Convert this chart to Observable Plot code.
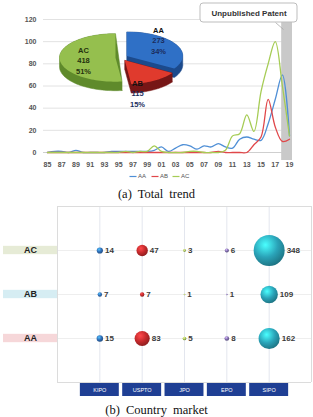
<!DOCTYPE html>
<html><head><meta charset="utf-8">
<script src="https://cdn.jsdelivr.net/npm/d3@7"></script>
<script src="https://cdn.jsdelivr.net/npm/@observablehq/plot@0.6"></script>
<style>
body{margin:0;background:#fff;}
#wrap{position:relative;width:313px;height:417px;overflow:hidden;}
.cap{position:absolute;left:0;width:313px;text-align:center;font-family:"Liberation Serif","Times New Roman",serif;font-size:12.5px;color:#111;word-spacing:3px;line-height:14px;}
#top{position:absolute;left:0;top:0;}
#bot{position:absolute;left:0;top:200px;}
</style></head><body>
<div id="wrap">
  <div id="top"></div>
  <div class="cap" style="top:187px">(a) Total trend</div>
  <div id="bot"></div>
  <div class="cap" style="top:403px">(b) Country market</div>
</div>
<script>
// ---------- data: (a) total trend ----------
const years = [1985,1986,1987,1988,1989,1990,1991,1992,1993,1994,1995,1996,1997,1998,1999,2000,2001,2002,2003,2004,2005,2006,2007,2008,2009,2010,2011,2012,2013,2014,2015,2016,2017,2018,2019];
const seriesNames = ["AA","AB","AC"];
const aaTrend = [0,1,1,0,2,0,0,0,0,1,1,1,1,1,1,2,5,1,4,7,6,3,6,5,8,5,4,12,14,12,11,26,48,70,15];
const abTrend = [0,0,0,0,0,0,0,0,0,0,0,0,0,0,0,0,0,0,0,0,0,0,0,0,1,0,0,0,0,7,14,48,23,10,12];
const acTrend = [0,0,0,0,0,0,0,0,0,0,0,1,0,1,1,6,1,0,0,0,1,1,0,0,0,2,15,17,34,19,55,80,100,60,15];
const yTicks = [0,20,40,60,80,100,120];
const xTickYears = [1985,1987,1989,1991,1993,1995,1997,1999,2001,2003,2005,2007,2009,2011,2013,2015,2017,2019];
const xTickLabels = ["85","87","89","91","93","95","97","99","01","03","05","07","09","11","13","15","17","19"];
const unpublishedFrom = 2017.9;
const calloutText = "Unpublished Patent";

// pie inset
const pieKeys = ["AA","AB","AC"];
const pieVals = [273,115,418];
const piePct = ["34%","15%","51%"];

// ---------- data: (b) country market ----------
const markets = ["KIPO","USPTO","JPO","EPO","SIPO"];
const techs = ["AC","AB","AA"];
const acCounts = [14,47,3,6,348];
const abCounts = [7,7,1,1,109];
const aaCounts = [15,83,5,8,162];

// ---------- styles ----------
const lineColors = ["#4f8fd6","#e0474a","#a6cc55"];
const pieTop = {AA:"#2f70c6", AB:"#e03a2d", AC:"#95bf4e"};
const pieSide = {AA:"#1c4a8c", AB:"#761616", AC:"#5f8a2b"};
const pieText = {AA:["#111","#1b2c5c"], AB:["#111","#1b2c5c"], AC:["#26330f","#26330f"]};
const marketColors = ["#2f6db5","#c3292b","#a0bf5a","#7b69a8","#2aa3b8"];
const techBg = {AC:"#e6ebd6", AB:"#d6edf3", AA:"#f6d7d9"};
const font = "'Liberation Sans', Arial, sans-serif";

// ---------- (a) ----------
const pxX = px => 1985 + (px - 47) * 34 / 242;
const pxY = py => (152 - py) * 120 / 133;

const trend = [];
[aaTrend, abTrend, acTrend].forEach((arr, s) => arr.forEach((v, i) => trend.push({series: seriesNames[s], year: years[i], value: v})));

// pie geometry (computed from pie values)
const pieCx = 121, pieCy = 57, rx = 56, ry = 24, depth = 9, explode = 6;
const arcs = d3.pie().sort(null)(pieVals);
const slices = arcs.map((a, i) => {
  const mid = (a.startAngle + a.endAngle) / 2;
  const cx = pieCx + explode * Math.sin(mid), cy = pieCy - explode * 0.55 * Math.cos(mid);
  const n = Math.max(3, Math.ceil((a.endAngle - a.startAngle) / 0.04));
  const top = [[cx, cy]];
  for (let k = 0; k <= n; k++) {
    const t = a.startAngle + (a.endAngle - a.startAngle) * k / n;
    top.push([cx + rx * Math.sin(t), cy - ry * Math.cos(t)]);
  }
  const hull = d3.polygonHull(top.concat(top.map(([x, y]) => [x, y + depth])));
  const toData = pts => { const o = pts.map(([x, y]) => ({x: pxX(x), y: pxY(y)})); o.push(o[0]); return o; };
  return {key: pieKeys[i], top: toData(top), side: toData(hull)};
});
const drawOrder = ["AA","AC","AB"];
const pieMarks = [];
drawOrder.forEach(k => {
  const s = slices.find(d => d.key === k);
  pieMarks.push(Plot.line(s.side, {x: "x", y: "y", fill: pieSide[k], stroke: pieSide[k], strokeWidth: 0.5}));
  pieMarks.push(Plot.line(s.top, {x: "x", y: "y", fill: pieTop[k], stroke: "none"}));
});
const pieLabelPos = {AA: [158, 30], AB: [137, 83], AC: [83, 50]};
const pieLabelMarks = [];
pieKeys.forEach((k, i) => {
  const [px, py] = pieLabelPos[k];
  pieLabelMarks.push(Plot.text([k], {x: pxX(px), y: pxY(py), text: d => d, fill: pieText[k][0], fontSize: 7.5, fontWeight: "bold"}));
  pieLabelMarks.push(Plot.text([String(pieVals[i]), piePct[i]], {x: pxX(px), y: (d, j) => pxY(py + 10.5 * (j + 1)), text: d => d, fill: pieText[k][1], fontSize: 7.5, fontWeight: "bold"}));
});

const legendItems = seriesNames.map((s, i) => ({s, x0: pxX([129, 151, 172][i]), x1: pxX([136, 158, 179][i]), tx: pxX([137.5, 159.5, 180.5][i])}));
const legY = pxY(176);

const topPlot = Plot.plot({
  width: 313, height: 185, margin: 0,
  style: {fontFamily: font, background: "transparent", overflow: "visible"},
  x: {domain: [1985, 2019], range: [47, 289], axis: null},
  y: {domain: [0, 120], range: [152, 19], axis: null},
  color: {domain: seriesNames, range: lineColors},
  marks: [
    Plot.ruleY(yTicks.filter(d => d > 0), {x1: pxX(43), x2: pxX(292), stroke: "#e2e2e2", strokeWidth: 1}),
    Plot.ruleY([0], {x1: pxX(43), x2: pxX(292), stroke: "#cfcfcf", strokeWidth: 1}),
    Plot.rect([unpublishedFrom], {x1: d => d, x2: pxX(292), y1: pxY(160), y2: pxY(21), fill: "#c9c9c9"}),
    Plot.line(trend, {x: "year", y: "value", z: "series", stroke: "series", strokeWidth: 1.3, curve: "catmull-rom"}),
    Plot.text(yTicks, {x: pxX(44), y: d => d, dx: -8, text: d => String(d), textAnchor: "end", fontSize: 7, fontWeight: "bold", fill: "#555"}),
    Plot.text(xTickYears, {x: d => d, y: 0, dy: 12, text: (d, i) => xTickLabels[i], fontSize: 7, fontWeight: "bold", fill: "#555"}),
    Plot.link(legendItems, {x1: "x0", x2: "x1", y1: legY, y2: legY, stroke: "s", strokeWidth: 1.2}),
    Plot.text(legendItems, {x: "tx", y: legY, text: "s", textAnchor: "start", fontSize: 6, fill: "#555"}),
    ...pieMarks,
    ...pieLabelMarks,
    Plot.link([0], {x1: pxX(275), y1: pxY(22), x2: pxX(283), y2: pxY(29), stroke: "#aaa", strokeWidth: 0.8}),
    Plot.rect([0], {x1: pxX(200), x2: pxX(297), y1: pxY(22), y2: pxY(3), fill: "#fff", stroke: "#bdbdbd", rx: 3}),
    Plot.text([calloutText], {x: pxX(248.5), y: pxY(12.5), text: d => d, fontSize: 8, fontWeight: "bold", fill: "#333"})
  ]
});
document.getElementById("top").append(topPlot);

// ---------- (b) ----------
const rowOf = {AC: 3, AB: 2, AA: 1};
const countsOf = {AC: acCounts, AB: abCounts, AA: aaCounts};
const bubbles = [];
techs.forEach(t => markets.forEach((m, j) => bubbles.push({tech: t, market: m, col: j + 1, row: rowOf[t], value: countsOf[t][j]})));
const rMax = 15.5, vMax = d3.max(bubbles, d => d.value);
const rpx = v => rMax * Math.sqrt(v / vMax);
const unitX = 254 / 6;

const gradDefs = () => {
  const defs = d3.create("svg:defs");
  markets.forEach((m, j) => {
    const c = marketColors[j];
    const g = defs.append("radialGradient").attr("id", "g" + m).attr("cx", "0.38").attr("cy", "0.32").attr("r", "0.72");
    g.append("stop").attr("offset", "0%").attr("stop-color", d3.color(c).brighter(1.6).formatHex());
    g.append("stop").attr("offset", "55%").attr("stop-color", c);
    g.append("stop").attr("offset", "100%").attr("stop-color", d3.color(c).darker(1).formatHex());
  });
  return defs.node();
};

const botPlot = Plot.plot({
  width: 313, height: 200, margin: 0,
  style: {fontFamily: font, background: "transparent", overflow: "visible"},
  x: {domain: [0, 6], range: [57, 311], axis: null},
  y: {domain: [0, 4], range: [182, 6], axis: null},
  r: {domain: [0, vMax], range: [0, rMax]},
  marks: [
    gradDefs,
    Plot.ruleX([1, 2, 3, 4, 5], {y1: 0, y2: 4, stroke: "#e3e6ee", strokeWidth: 1}),
    Plot.ruleY([1, 2, 3], {x1: 0, x2: 6, stroke: "#eeeeee", strokeWidth: 1}),
    Plot.ruleY([0, 4], {x1: 0, x2: 6, stroke: "#dcdcdc", strokeWidth: 1}),
    Plot.ruleX([0, 6], {y1: 0, y2: 4, stroke: "#dcdcdc", strokeWidth: 1}),
    Plot.rect(techs, {x1: -54 / unitX, x2: 0, y1: t => rowOf[t] - 0.095, y2: t => rowOf[t] + 0.095, fill: t => techBg[t]}),
    Plot.text(techs, {x: -27 / unitX, y: t => rowOf[t], text: d => d, fontSize: 9, fontWeight: "bold", fill: "#222"}),
    Plot.rect(markets, {x1: (d, i) => i + 1 - 0.46, x2: (d, i) => i + 1 + 0.46, y1: -14 / 44, y2: -1 / 44, fill: "#1f3f94"}),
    Plot.text(markets, {x: (d, i) => i + 1, y: -7.5 / 44, text: d => d, fontSize: 5.5, fill: "#fff"}),
    ...markets.map(m => Plot.dot(bubbles.filter(d => d.market === m), {x: "col", y: "row", r: "value", fill: "url(#g" + m + ")", stroke: "none"})),
    Plot.text(bubbles, {x: d => d.col + (rpx(d.value) + 2) / unitX, y: "row", text: d => String(d.value), textAnchor: "start", fontSize: 8, fontWeight: "bold", fill: "#3a3a3a"})
  ]
});
document.getElementById("bot").append(botPlot);
</script>
</body></html>
